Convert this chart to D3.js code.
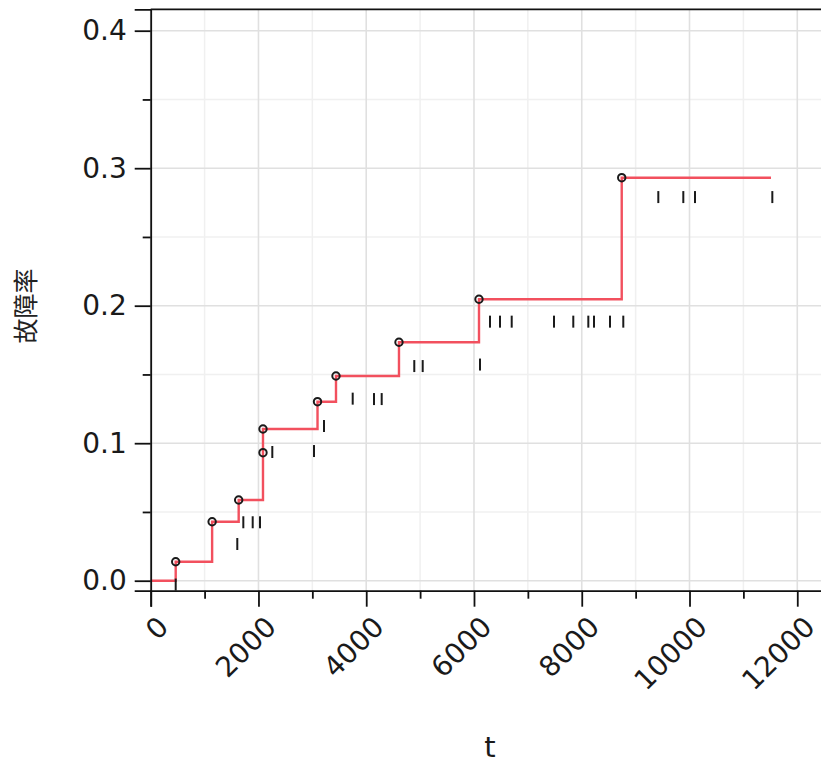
<!DOCTYPE html>
<html><head><meta charset="utf-8">
<script src="https://cdn.jsdelivr.net/npm/d3@7"></script>
<style>html,body{margin:0;padding:0;background:#fff;overflow:hidden}</style>
</head><body>
<svg id="chart" width="821" height="765"></svg>
<script>
// failure (step) times and cumulative failure rate values
const stepTimes  = [0, 464, 1140, 1633, 2084, 3096, 3439, 4608, 6093, 8742, 11512];
const stepValues = [0, 0.0138, 0.0429, 0.0587, 0.1103, 0.1302, 0.1489, 0.1734, 0.2047, 0.2931, 0.2931];
// observed failure points (circles)
const failTimes  = [464, 1140, 1633, 2084, 2084, 3096, 3439, 4608, 6093, 8742];
const failValues = [0.0138, 0.0429, 0.0587, 0.0931, 0.1103, 0.1302, 0.1489, 0.1734, 0.2047, 0.2931];
// censored observations (tick marks)
const censorTimes  = [464, 1607, 1719, 1893, 2029, 2257, 3031, 3216, 3749, 4144, 4287, 4892, 5048, 6112,
                      6297, 6483, 6700, 7485, 7843, 8122, 8227, 8524, 8771, 9421, 9885, 10102, 11537];
const censorValues = [-0.0028, 0.0267, 0.0425, 0.0425, 0.0425, 0.0936, 0.0943, 0.1125, 0.1324, 0.1321, 0.1321, 0.1561, 0.1561, 0.1572,
                      0.1884, 0.1884, 0.1884, 0.1884, 0.1884, 0.1884, 0.1884, 0.1884, 0.1884, 0.279, 0.279, 0.279, 0.279];
const xMajorTicks = [0, 2000, 4000, 6000, 8000, 10000, 12000];
const xMinorTicks = [1000, 3000, 5000, 7000, 9000, 11000];
const yMajorTicks = [0, 0.1, 0.2, 0.3, 0.4];
const yMinorTicks = [0.05, 0.15, 0.25, 0.35];
const xTitle = "t";
const yTitle = "故障率";

const svg = d3.select("#chart");
const pLeft = 150.7, pRight = 829.6, pTop = 9.3, pBottom = 590.7;
const x = d3.scaleLinear().domain([0, 12600]).range([pLeft, pRight]);
const y = d3.scaleLinear().domain([-0.00727, 0.41556]).range([pBottom, pTop]);
const font = "'DejaVu Sans', Verdana, sans-serif";

// grid
const grid = svg.append("g");
grid.selectAll(".vmin").data(xMinorTicks).enter().append("line")
  .attr("x1", d => x(d)).attr("x2", d => x(d)).attr("y1", pTop).attr("y2", pBottom)
  .attr("stroke", "#f0f0f0").attr("stroke-width", 1.5);
grid.selectAll(".hmin").data(yMinorTicks).enter().append("line")
  .attr("x1", pLeft).attr("x2", pRight).attr("y1", d => y(d)).attr("y2", d => y(d))
  .attr("stroke", "#f0f0f0").attr("stroke-width", 1.5);
grid.selectAll(".vmaj").data(xMajorTicks).enter().append("line")
  .attr("x1", d => x(d)).attr("x2", d => x(d)).attr("y1", pTop).attr("y2", pBottom)
  .attr("stroke", "#e0e0e0").attr("stroke-width", 1.6);
grid.selectAll(".hmaj").data(yMajorTicks).enter().append("line")
  .attr("x1", pLeft).attr("x2", pRight).attr("y1", d => y(d)).attr("y2", d => y(d))
  .attr("stroke", "#e0e0e0").attr("stroke-width", 1.6);

// step line
const line = d3.line().x((d, i) => x(stepTimes[i])).y((d, i) => y(stepValues[i])).curve(d3.curveStepAfter);
svg.append("path").datum(stepTimes).attr("d", line)
  .attr("fill", "none").attr("stroke", "#f2505e").attr("stroke-width", 2.4);

// censor marks
svg.append("g").selectAll("line").data(censorTimes).enter().append("line")
  .attr("x1", d => x(d)).attr("x2", d => x(d))
  .attr("y1", (d, i) => y(censorValues[i]) - 6).attr("y2", (d, i) => Math.min(y(censorValues[i]) + 6, pBottom))
  .attr("stroke", "#1a1a1a").attr("stroke-width", 2);

// failure circles
svg.append("g").selectAll("circle").data(failTimes).enter().append("circle")
  .attr("cx", d => x(d)).attr("cy", (d, i) => y(failValues[i])).attr("r", 3.7)
  .attr("fill", "none").attr("stroke", "#1a1a1a").attr("stroke-width", 2);

// axes
const xAxis = svg.append("g").attr("transform", `translate(0,${pBottom})`)
  .call(d3.axisBottom(x).tickValues(xMajorTicks).tickSize(16).tickFormat(d3.format("d")));
svg.append("g").attr("transform", `translate(0,${pBottom})`)
  .call(d3.axisBottom(x).tickValues(xMinorTicks).tickSize(8).tickFormat(""))
  .call(g => g.select(".domain").remove());
const yAxis = svg.append("g").attr("transform", `translate(${pLeft},0)`)
  .call(d3.axisLeft(y).tickValues(yMajorTicks).tickSize(16).tickPadding(8).tickFormat(d3.format(".1f")));
svg.append("g").attr("transform", `translate(${pLeft},0)`)
  .call(d3.axisLeft(y).tickValues(yMinorTicks).tickSize(8).tickFormat(""))
  .call(g => g.select(".domain").remove());

svg.selectAll(".domain").attr("stroke", "#111").attr("stroke-width", 1.8);
svg.selectAll(".tick line").attr("stroke", "#111").attr("stroke-width", 1.8);
yAxis.selectAll("text").attr("font-family", font).attr("font-size", 28).attr("fill", "#1a1a1a");
xAxis.selectAll("text").attr("font-family", font).attr("font-size", 28).attr("fill", "#1a1a1a")
  .attr("text-anchor", "end").attr("dy", "0.35em")
  .attr("transform", "translate(12,31) rotate(-45)").attr("y", 0).attr("x", 0);

// top frame
svg.append("line").attr("x1", pLeft).attr("x2", 821).attr("y1", pTop).attr("y2", pTop)
  .attr("stroke", "#111").attr("stroke-width", 1.8);

// titles
svg.append("text").attr("x", 490).attr("y", 757).attr("text-anchor", "middle")
  .attr("font-family", font).attr("font-size", 29).attr("fill", "#1a1a1a").text(xTitle);
svg.append("text").attr("transform", "translate(28,306) rotate(-90)").attr("text-anchor", "middle")
  .attr("dominant-baseline", "middle")
  .attr("font-family", "'Noto Sans CJK SC', sans-serif").attr("font-size", 25).attr("fill", "#222").text(yTitle);
</script>
</body></html>
